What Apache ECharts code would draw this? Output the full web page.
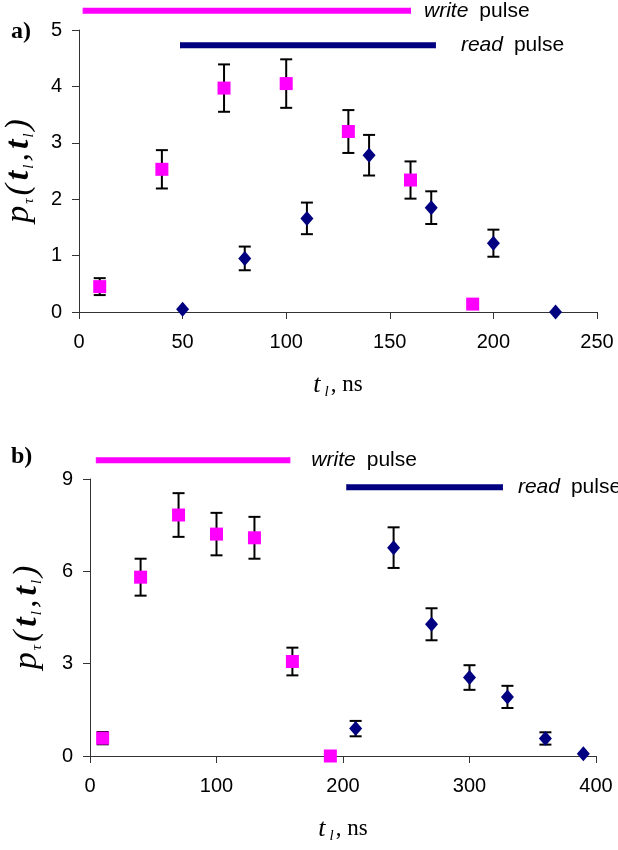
<!DOCTYPE html>
<html><head><meta charset="utf-8">
<script src="https://cdn.jsdelivr.net/npm/echarts@6/dist/echarts.min.js"></script>
<style>html,body{margin:0;padding:0;background:#fff}#c{width:618px;height:850px}</style>
</head><body><div id="c"></div>
<script>
// ---- panel a) data ----
const aWriteX = [10, 40, 70, 100, 130, 160, 190];
const aWriteY = [0.45, 2.53, 3.97, 4.05, 3.20, 2.34, 0.14];
const aWriteErr = [0.15, 0.34, 0.42, 0.43, 0.38, 0.33, 0];
const aReadX = [50, 80, 110, 140, 170, 200, 230];
const aReadY = [0.05, 0.95, 1.66, 2.78, 1.85, 1.22, 0.0];
const aReadErr = [0, 0.21, 0.28, 0.36, 0.29, 0.24, 0];
const aWritePulse = [[2, 5.34], [160, 5.34]];
const aReadPulse = [[49, 4.73], [172, 4.73]];
const aXTicks = {min: 0, max: 250, interval: 50};
const aYTicks = {min: 0, max: 5, interval: 1};
// ---- panel b) data ----
const bWriteX = [10, 40, 70, 100, 130, 160, 190];
const bWriteY = [0.58, 5.81, 7.83, 7.21, 7.09, 3.07, 0.0];
const bWriteErr = [0.2, 0.6, 0.71, 0.69, 0.68, 0.45, 0];
const bReadX = [210, 240, 270, 300, 330, 360, 390];
const bReadY = [0.89, 6.77, 4.28, 2.55, 1.92, 0.57, 0.07];
const bReadErr = [0.25, 0.66, 0.52, 0.40, 0.36, 0.20, 0];
const bWritePulse = [[5, 9.61], [158, 9.61]];
const bReadPulse = [[203, 8.73], [326, 8.73]];
const bXTicks = {min: 0, max: 400, interval: 100};
const bYTicks = {min: 0, max: 9, interval: 3};

const MAG = '#FF00FF', NAVY = '#000080', AX = '#333';
const SANS = 'Liberation Sans, Arial, sans-serif';
const SERIF = 'Liberation Serif, Times New Roman, serif';

function errSeries(xi, xs, ys, es) {
  return {
    type: 'custom', xAxisIndex: xi, yAxisIndex: xi, z: 2, clip: false, silent: true,
    encode: {x: 0, y: 1},
    data: xs.map((x, i) => [x, ys[i], es[i]]).filter(d => d[2] > 0),
    renderItem(params, api) {
      const x = api.value(0), y = api.value(1), e = api.value(2);
      const t = api.coord([x, y + e]), b = api.coord([x, y - e]);
      const w = 6, st = {stroke: '#000', lineWidth: 2};
      return {type: 'group', children: [
        {type: 'line', shape: {x1: t[0], y1: t[1], x2: b[0], y2: b[1]}, style: st},
        {type: 'line', shape: {x1: t[0] - w, y1: t[1], x2: t[0] + w, y2: t[1]}, style: st},
        {type: 'line', shape: {x1: b[0] - w, y1: b[1], x2: b[0] + w, y2: b[1]}, style: st}
      ]};
    }
  };
}
function scatter(xi, xs, ys, kind) {
  return {
    type: 'scatter', xAxisIndex: xi, yAxisIndex: xi, z: 3, silent: true,
    symbol: kind === 'w' ? 'rect' : 'diamond',
    symbolSize: kind === 'w' ? 13 : [13, 15],
    itemStyle: {color: kind === 'w' ? MAG : NAVY, opacity: 1},
    data: xs.map((x, i) => [x, ys[i]])
  };
}
const pulseRich = {
  i: {fontFamily: SANS, fontStyle: 'italic', fontSize: 21, color: '#000'},
  n: {fontFamily: SANS, fontSize: 21, color: '#000', padding: [0, 0, 0, 11]}
};
function pulse(xi, pts, color, word, dist) {
  return {
    type: 'line', xAxisIndex: xi, yAxisIndex: xi, z: 3, clip: false, silent: true,
    symbol: 'rect', symbolSize: [1, 6], itemStyle: {color: color},
    lineStyle: {color: color, width: 6, cap: 'butt'},
    data: [
      {value: pts[0]},
      {value: pts[1], label: {show: true, position: 'right', distance: dist,
        formatter: '{i|' + word + '}{n|pulse}', rich: pulseRich}}
    ]
  };
}
const yNameRich = {
  p: {fontFamily: SERIF, fontStyle: 'italic', fontSize: 34, lineHeight: 40, color: '#000', padding: [0, 1, 0, 1]},
  t: {fontFamily: SERIF, fontStyle: 'italic', fontWeight: 'bold', fontSize: 34, lineHeight: 40, color: '#000', padding: [0, 1, 0, 3]},
  s: {fontFamily: SERIF, fontStyle: 'italic', fontSize: 15, lineHeight: 40, verticalAlign: 'bottom', color: '#000', padding: [0, 2, 2, 1]}
};
const yName = '{p|p}{s|τ}{p|(}{t|t}{s|l}{p|,}{t|t}{s|l}{p|)}';
const xNameRich = {
  t: {fontFamily: SERIF, fontStyle: 'italic', fontSize: 26, lineHeight: 30, color: '#000'},
  s: {fontFamily: SERIF, fontStyle: 'italic', fontSize: 15, lineHeight: 30, verticalAlign: 'bottom', color: '#000', padding: [0, 2, 0, 4]},
  n: {fontFamily: SERIF, fontSize: 23, lineHeight: 30, color: '#000'}
};
const xName = '{t|t}{s|l}{n|, ns}';

function xAxis(gi, tk) {
  return {
    type: 'value', gridIndex: gi, min: tk.min, max: tk.max, interval: tk.interval,
    axisLine: {show: true, onZero: false, lineStyle: {color: AX, width: 1}},
    axisTick: {show: true, inside: false, length: 7, lineStyle: {color: AX}},
    axisLabel: {fontFamily: SANS, fontSize: 20, color: '#000', margin: 20},
    splitLine: {show: false},
    name: xName, nameLocation: 'middle', nameGap: 58,
    nameTextStyle: {rich: xNameRich}
  };
}
function yAxis(gi, tk, gap) {
  return {
    type: 'value', gridIndex: gi, min: tk.min, max: tk.max, interval: tk.interval,
    axisLine: {show: true, onZero: false, lineStyle: {color: AX, width: 1}},
    axisTick: {show: true, inside: false, length: 7, lineStyle: {color: AX}},
    axisLabel: {fontFamily: SANS, fontSize: 20, color: '#000', margin: 17},
    splitLine: {show: false},
    name: yName, nameLocation: 'middle', nameGap: gap,
    nameTextStyle: {rich: yNameRich}
  };
}

const chart = echarts.init(document.getElementById('c'), null, {renderer: 'canvas'});
chart.setOption({
  backgroundColor: '#fff',
  animation: false,
  title: [
    {text: 'a)', left: 6, top: 15, textStyle: {fontFamily: SERIF, fontWeight: 'bold', fontSize: 24, color: '#000'}},
    {text: 'b)', left: 6, top: 440, textStyle: {fontFamily: SERIF, fontWeight: 'bold', fontSize: 24, color: '#000'}}
  ],
  grid: [
    {left: 79, top: 30, width: 518, height: 282, containLabel: false, outerBoundsMode: 'none'},
    {left: 90, top: 479, width: 506, height: 277, containLabel: false, outerBoundsMode: 'none'}
  ],
  xAxis: [xAxis(0, aXTicks), xAxis(1, bXTicks)],
  yAxis: [yAxis(0, aYTicks, 40), yAxis(1, bYTicks, 43)],
  series: [
    errSeries(0, aWriteX, aWriteY, aWriteErr),
    errSeries(0, aReadX, aReadY, aReadErr),
    scatter(0, aWriteX, aWriteY, 'w'),
    scatter(0, aReadX, aReadY, 'r'),
    pulse(0, aWritePulse, MAG, 'write', 13),
    pulse(0, aReadPulse, NAVY, 'read', 25),
    errSeries(1, bWriteX, bWriteY, bWriteErr),
    errSeries(1, bReadX, bReadY, bReadErr),
    scatter(1, bWriteX, bWriteY, 'w'),
    scatter(1, bReadX, bReadY, 'r'),
    pulse(1, bWritePulse, MAG, 'write', 21),
    pulse(1, bReadPulse, NAVY, 'read', 15)
  ]
});
</script></body></html>
